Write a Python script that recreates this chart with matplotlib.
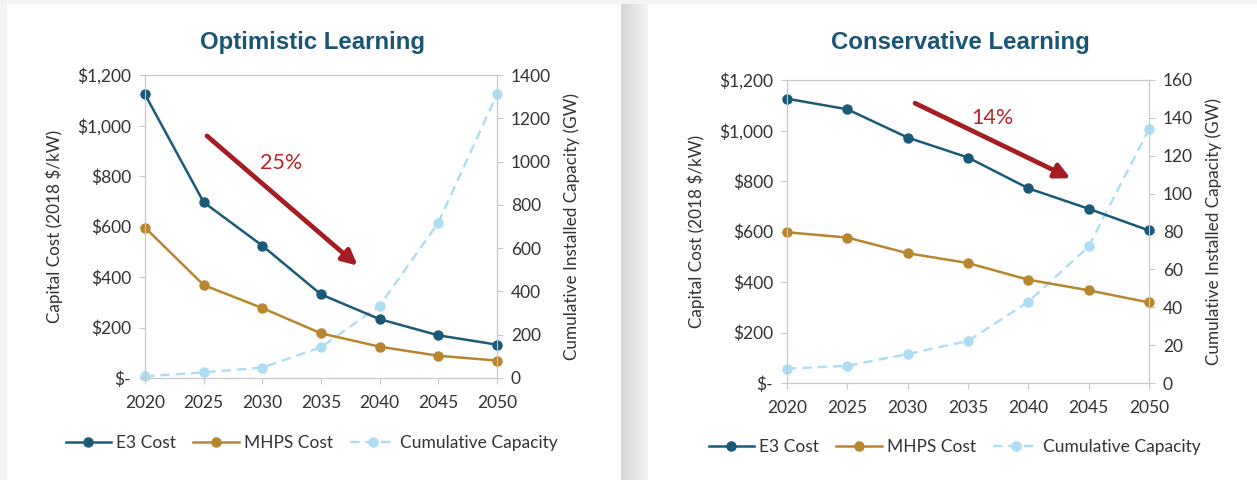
import matplotlib.pyplot as plt
import numpy as np
from matplotlib.patches import Rectangle
from matplotlib.ticker import FuncFormatter, MultipleLocator

#dados
anos = [2020, 2025, 2030, 2035, 2040, 2045, 2050]

# aprendizado otimista
e3_otim = [1123, 696, 524, 331, 233, 169, 132]
mhps_otim = [596, 368, 277, 177, 124, 88, 69]
cap_otim = [8, 26, 48, 142, 334, 718, 1311]

# aprendizado conservador
e3_cons = [1126, 1084, 972, 893, 771, 690, 604]
mhps_cons = [597, 576, 514, 475, 409, 367, 319]
cap_cons = [7.6, 9.1, 15.3, 22.2, 42.9, 72.1, 134]

titulos = ['Optimistic Learning', 'Conservative Learning']
rotulos_seta = ['25%', '14%']

plt.rcParams['font.family'] = ['Lato', 'DejaVu Sans']

cor_e3 = '#1A5A78'
cor_mhps = '#B8862E'
cor_cap = '#ADDDF2'
cor_seta = '#A51D22'
cor_titulo = '#1B5575'
cor_texto = '#333333'
cor_eixo = '#C8C8C8'

fig = plt.figure(figsize=(12.57, 4.8), dpi=100)
fig.patch.set_facecolor('#f3f3f3')

# paineis brancos (zorder negativo pra ficar atras dos eixos)
fig.patches.append(Rectangle((7/1257, 0), (621-7)/1257, 476/480, transform=fig.transFigure,
                             facecolor='white', edgecolor='none', zorder=-5))
fig.patches.append(Rectangle((648/1257, 0), (1257-648)/1257, 476/480, transform=fig.transFigure,
                             facecolor='white', edgecolor='none', zorder=-5))

# sombra entre os paineis
ax_sombra = fig.add_axes([621/1257, 0, 27/1257, 476/480])
grad = np.linspace(0.84, 0.95, 50).reshape(1, -1)
ax_sombra.imshow(grad, aspect='auto', cmap='gray', vmin=0, vmax=1, extent=[0, 1, 0, 1])
ax_sombra.axis('off')


def monta_painel(pos, e3, mhps, cap, cap_max, cap_passo, titulo, seta, texto, titulo_xy, leg_xy):
    ax = fig.add_axes(pos)
    ax2 = ax.twinx()
    ax2.set_zorder(1)
    ax.set_zorder(2)
    ax.patch.set_visible(False)

    ax2.plot(anos, cap, color=cor_cap, linestyle=(0, (4, 2.5)), linewidth=1.7, marker='o',
             markersize=6.5, clip_on=False, label='Cumulative Capacity')
    ax.plot(anos, e3, color=cor_e3, linewidth=1.8, marker='o', markersize=6.5,
            clip_on=False, label='E3 Cost')
    ax.plot(anos, mhps, color=cor_mhps, linewidth=1.8, marker='o', markersize=6.5,
            clip_on=False, label='MHPS Cost')

    ax.set_xlim(2020, 2050)
    ax.set_ylim(0, 1200)
    ax2.set_ylim(0, cap_max)
    ax.set_xticks(anos)
    ax.yaxis.set_major_locator(MultipleLocator(200))
    ax2.yaxis.set_major_locator(MultipleLocator(cap_passo))
    ax.yaxis.set_major_formatter(FuncFormatter(lambda v, p: '$-' if v == 0 else f'${v:,.0f}'))

    for a in (ax, ax2):
        for s in a.spines.values():
            s.set_color(cor_eixo)
        a.tick_params(colors=cor_eixo, labelcolor=cor_texto, labelsize=12.5, length=4)
    ax.tick_params(axis='x', pad=8)
    ax.tick_params(axis='y', pad=6)
    ax2.tick_params(axis='y', pad=6)

    ax.set_ylabel('Capital Cost (2018 $/kW)', fontsize=12.3, color=cor_texto, labelpad=10)
    ax2.set_ylabel('Cumulative Installed Capacity (GW)', fontsize=12.3, color=cor_texto, labelpad=9)

    # seta de queda
    ax.annotate('', xy=seta[1], xytext=seta[0],
                arrowprops=dict(arrowstyle='-|>,head_length=0.9,head_width=0.45',
                                color=cor_seta, linewidth=3.4))
    ax.text(texto[0], texto[1], texto[2], color='#B8262C', fontsize=15.5, ha='center', va='center')

    fig.text(titulo_xy[0], titulo_xy[1], titulo, fontsize=17.3, weight='bold', color=cor_titulo,
             ha='center', va='center', family='Liberation Sans')

    h1, l1 = ax.get_legend_handles_labels()
    h2, l2 = ax2.get_legend_handles_labels()
    fig.legend(h1 + h2, l1 + l2, loc='center', bbox_to_anchor=leg_xy, ncol=3, frameon=False,
               fontsize=12.5, handlelength=2.6, columnspacing=1.0, handletextpad=0.3,
               labelcolor=cor_texto)
    return ax


monta_painel([145/1257, 102/480, 352/1257, 303/480], e3_otim, mhps_otim, cap_otim, 1400, 200,
             titulos[0], [(2025.1, 966), (2038.3, 438)], (2031.6, 851, rotulos_seta[0]),
             (312/1257, 438/480), (312/1257, 37/480))

monta_painel([787/1257, 97/480, 362/1257, 303/480], e3_cons, mhps_cons, cap_cons, 160, 20,
             titulos[1], [(2030.4, 1113), (2043.7, 806)], (2037, 1050, rotulos_seta[1]),
             (960/1257, 438/480), (955/1257, 33/480))

plt.savefig('out.png', dpi=100, facecolor=fig.get_facecolor())
